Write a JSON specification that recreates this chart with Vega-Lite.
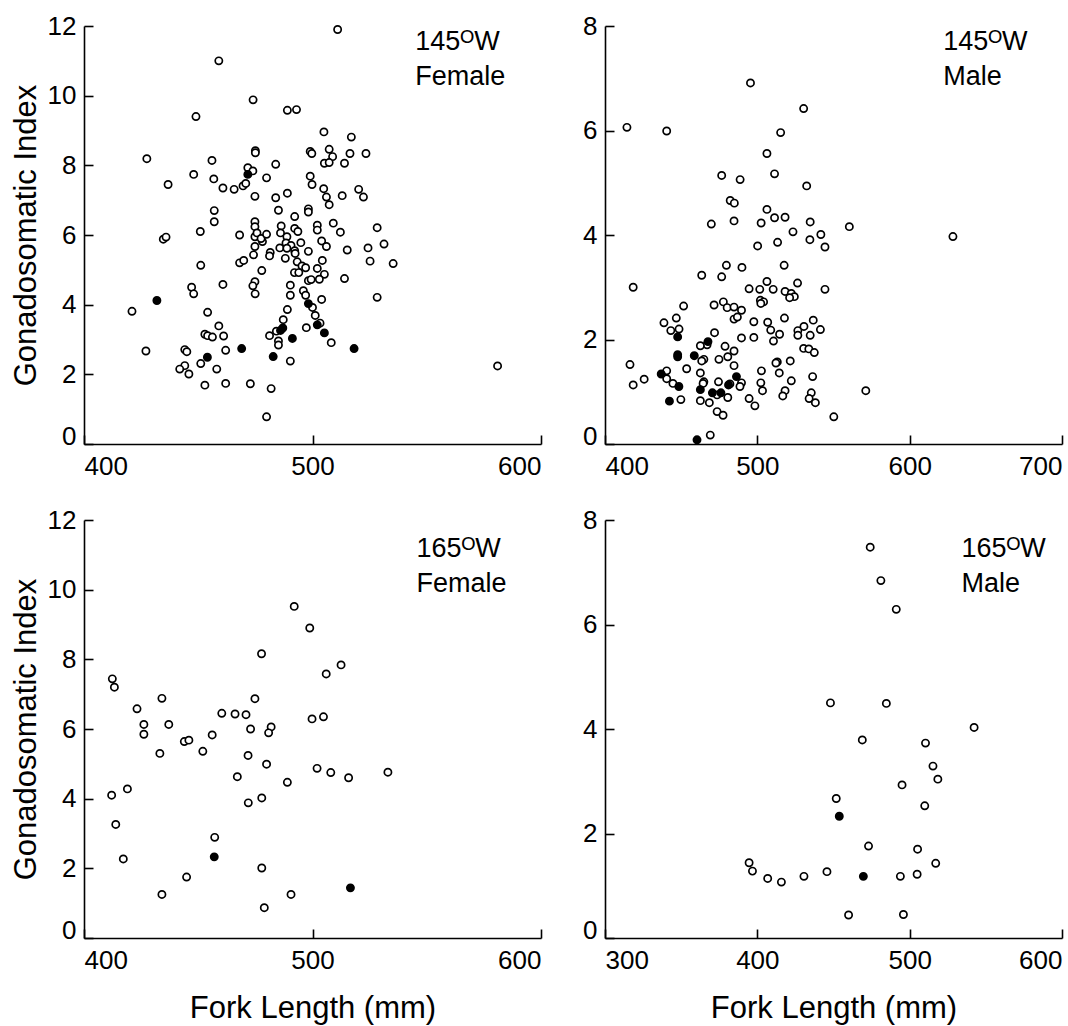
{
"$schema": "https://vega.github.io/schema/vega-lite/v6.json",
"background": "white",
"padding": {"left": 10, "top": 13, "right": 5, "bottom": 5},
"bounds": "flush",
"columns": 2,
"spacing": {"row": 76, "column": 64},
"config": {
  "view": {"stroke": null},
  "point": {"shape": "circle", "filled": true, "size": 52, "stroke": "black", "strokeWidth": 1.7, "opacity": 1},
  "axis": {"domainColor": "black", "domainWidth": 1.6, "tickColor": "black", "tickWidth": 1.6, "tickSize": -9, "grid": false,
    "labelFont": "Liberation Sans", "labelFontSize": 26, "labelColor": "black",
    "titleFont": "Liberation Sans", "titleFontSize": 31, "titleFontWeight": "normal", "titleColor": "black"},
  "axisX": {"labelPadding": 18, "labelFlush": true, "titlePadding": 20},
  "axisY": {"labelPadding": 17, "titlePadding": 5, "labelBaseline": {"condition": {"test": "datum.value === 0", "value": "alphabetic"}, "value": "middle"}}
},
"datasets": {
"tl": [
{"fl":511,"gsi":11.9,"k":"o"},{"fl":459,"gsi":11.0,"k":"o"},{"fl":474,"gsi":9.88,"k":"o"},{"fl":489,"gsi":9.58,"k":"o"},{"fl":493,"gsi":9.6,"k":"o"},{"fl":449,"gsi":9.4,"k":"o"},{"fl":505,"gsi":8.96,"k":"o"},{"fl":517,"gsi":8.81,"k":"o"},{"fl":427.5,"gsi":8.19,"k":"o"},{"fl":499,"gsi":8.4,"k":"o"},{"fl":499.7,"gsi":8.34,"k":"o"},{"fl":507.3,"gsi":8.46,"k":"o"},{"fl":508.8,"gsi":8.25,"k":"o"},{"fl":505.2,"gsi":8.06,"k":"o"},{"fl":507.3,"gsi":8.08,"k":"o"},{"fl":514,"gsi":8.06,"k":"o"},{"fl":516.4,"gsi":8.34,"k":"o"},{"fl":523.4,"gsi":8.34,"k":"o"},{"fl":475,"gsi":8.42,"k":"o"},{"fl":475,"gsi":8.36,"k":"o"},{"fl":456,"gsi":8.14,"k":"o"},{"fl":448,"gsi":7.74,"k":"o"},{"fl":436.8,"gsi":7.45,"k":"o"},{"fl":456.8,"gsi":7.61,"k":"o"},{"fl":460.8,"gsi":7.35,"k":"o"},{"fl":465.7,"gsi":7.31,"k":"o"},{"fl":469.6,"gsi":7.41,"k":"o"},{"fl":470.8,"gsi":7.48,"k":"o"},{"fl":471.7,"gsi":7.93,"k":"o"},{"fl":473.9,"gsi":7.84,"k":"o"},{"fl":474.8,"gsi":7.11,"k":"o"},{"fl":479.9,"gsi":7.64,"k":"o"},{"fl":483.9,"gsi":8.03,"k":"o"},{"fl":483.9,"gsi":7.07,"k":"o"},{"fl":489,"gsi":7.2,"k":"o"},{"fl":499,"gsi":7.69,"k":"o"},{"fl":499.8,"gsi":7.45,"k":"o"},{"fl":504.9,"gsi":7.33,"k":"o"},{"fl":506.1,"gsi":7.09,"k":"o"},{"fl":507.3,"gsi":6.87,"k":"o"},{"fl":513,"gsi":7.13,"k":"o"},{"fl":520.2,"gsi":7.31,"k":"o"},{"fl":522.3,"gsi":7.09,"k":"o"},{"fl":457,"gsi":6.7,"k":"o"},{"fl":457,"gsi":6.38,"k":"o"},{"fl":450.9,"gsi":6.1,"k":"o"},{"fl":485.1,"gsi":6.71,"k":"o"},{"fl":492.2,"gsi":6.53,"k":"o"},{"fl":498.2,"gsi":6.75,"k":"o"},{"fl":498.2,"gsi":6.66,"k":"o"},{"fl":474.8,"gsi":6.38,"k":"o"},{"fl":474.8,"gsi":6.24,"k":"o"},{"fl":474.8,"gsi":5.95,"k":"o"},{"fl":475.7,"gsi":6.06,"k":"o"},{"fl":478.1,"gsi":5.81,"k":"o"},{"fl":477.5,"gsi":5.9,"k":"o"},{"fl":479.9,"gsi":6.02,"k":"o"},{"fl":468.1,"gsi":6.0,"k":"o"},{"fl":486.3,"gsi":6.26,"k":"o"},{"fl":486,"gsi":6.06,"k":"o"},{"fl":488.8,"gsi":5.95,"k":"o"},{"fl":492.2,"gsi":6.19,"k":"o"},{"fl":493.6,"gsi":6.1,"k":"o"},{"fl":502.1,"gsi":6.28,"k":"o"},{"fl":502.1,"gsi":6.14,"k":"o"},{"fl":509.1,"gsi":6.34,"k":"o"},{"fl":512.2,"gsi":6.08,"k":"o"},{"fl":528.3,"gsi":6.21,"k":"o"},{"fl":434.7,"gsi":5.88,"k":"o"},{"fl":435.9,"gsi":5.94,"k":"o"},
{"fl":474.8,"gsi":5.67,"k":"o"},{"fl":488.4,"gsi":5.77,"k":"o"},{"fl":490.6,"gsi":5.7,"k":"o"},{"fl":494.9,"gsi":5.78,"k":"o"},{"fl":504,"gsi":5.83,"k":"o"},{"fl":506.1,"gsi":5.67,"k":"o"},{"fl":515.2,"gsi":5.57,"k":"o"},{"fl":524.3,"gsi":5.63,"k":"o"},{"fl":531.3,"gsi":5.74,"k":"o"},{"fl":485.7,"gsi":5.63,"k":"o"},{"fl":488.8,"gsi":5.62,"k":"o"},{"fl":492.2,"gsi":5.55,"k":"o"},{"fl":498.2,"gsi":5.53,"k":"o"},{"fl":481.5,"gsi":5.5,"k":"o"},
{"fl":474.2,"gsi":5.43,"k":"o"},{"fl":481.2,"gsi":5.4,"k":"o"},{"fl":468.1,"gsi":5.2,"k":"o"},{"fl":469.9,"gsi":5.27,"k":"o"},{"fl":488.1,"gsi":5.33,"k":"o"},{"fl":493.3,"gsi":5.23,"k":"o"},{"fl":492.4,"gsi":5.47,"k":"o"},{"fl":495.4,"gsi":5.11,"k":"o"},{"fl":497,"gsi":5.06,"k":"o"},{"fl":492.1,"gsi":4.92,"k":"o"},{"fl":494,"gsi":4.92,"k":"o"},{"fl":504.3,"gsi":5.27,"k":"o"},{"fl":502.1,"gsi":5.04,"k":"o"},{"fl":505.2,"gsi":4.87,"k":"o"},{"fl":498.2,"gsi":4.69,"k":"o"},{"fl":499.4,"gsi":4.72,"k":"o"},{"fl":503,"gsi":4.73,"k":"o"},{"fl":514,"gsi":4.75,"k":"o"},{"fl":525.2,"gsi":5.25,"k":"o"},{"fl":535.3,"gsi":5.18,"k":"o"},{"fl":477.8,"gsi":4.98,"k":"o"},{"fl":451.1,"gsi":5.13,"k":"o"},{"fl":460.8,"gsi":4.58,"k":"o"},{"fl":474.8,"gsi":4.66,"k":"o"},{"fl":473.9,"gsi":4.54,"k":"o"},{"fl":474.9,"gsi":4.31,"k":"o"},{"fl":447.1,"gsi":4.5,"k":"o"},{"fl":448,"gsi":4.31,"k":"o"},{"fl":490.3,"gsi":4.56,"k":"o"},{"fl":490.3,"gsi":4.27,"k":"o"},{"fl":496,"gsi":4.4,"k":"o"},{"fl":497,"gsi":4.27,"k":"o"},{"fl":528.3,"gsi":4.21,"k":"o"},{"fl":504,"gsi":4.15,"k":"o"},{"fl":421,"gsi":3.81,"k":"o"},{"fl":454.1,"gsi":3.78,"k":"o"},{"fl":500,"gsi":3.92,"k":"o"},{"fl":489,"gsi":3.86,"k":"o"},{"fl":501.2,"gsi":3.69,"k":"o"},{"fl":487.2,"gsi":3.57,"k":"o"},{"fl":503.3,"gsi":3.47,"k":"o"},{"fl":497.3,"gsi":3.34,"k":"o"},{"fl":459,"gsi":3.39,"k":"o"},{"fl":452.9,"gsi":3.15,"k":"o"},{"fl":454.1,"gsi":3.11,"k":"o"},{"fl":456.2,"gsi":3.07,"k":"o"},{"fl":461.1,"gsi":3.1,"k":"o"},{"fl":484.2,"gsi":3.24,"k":"o"},{"fl":481.2,"gsi":3.11,"k":"o"},{"fl":485.1,"gsi":2.96,"k":"o"},{"fl":485.1,"gsi":2.84,"k":"o"},{"fl":508.2,"gsi":2.91,"k":"o"},{"fl":462,"gsi":2.69,"k":"o"},{"fl":444.1,"gsi":2.71,"k":"o"},{"fl":445,"gsi":2.65,"k":"o"},{"fl":427.1,"gsi":2.67,"k":"o"},{"fl":490.3,"gsi":2.38,"k":"o"},{"fl":451.1,"gsi":2.31,"k":"o"},{"fl":444.1,"gsi":2.25,"k":"o"},{"fl":441.9,"gsi":2.15,"k":"o"},{"fl":445.9,"gsi":2.01,"k":"o"},{"fl":458.1,"gsi":2.15,"k":"o"},{"fl":452.9,"gsi":1.69,"k":"o"},{"fl":462,"gsi":1.74,"k":"o"},{"fl":472.8,"gsi":1.73,"k":"o"},{"fl":481.9,"gsi":1.59,"k":"o"},{"fl":479.9,"gsi":0.78,"k":"o"},{"fl":581,"gsi":2.24,"k":"o"},
{"fl":471.7,"gsi":7.74,"k":"f"},{"fl":431.9,"gsi":4.12,"k":"f"},{"fl":498.2,"gsi":4.03,"k":"f"},{"fl":502.1,"gsi":3.42,"k":"f"},{"fl":486,"gsi":3.26,"k":"f"},{"fl":487,"gsi":3.33,"k":"f"},{"fl":491.2,"gsi":3.03,"k":"f"},{"fl":505.2,"gsi":3.19,"k":"f"},{"fl":518.2,"gsi":2.74,"k":"f"},{"fl":469,"gsi":2.74,"k":"f"},{"fl":454,"gsi":2.49,"k":"f"},{"fl":482.8,"gsi":2.51,"k":"f"}
],
"tr": [
{"fl":414.4,"gsi":6.06,"k":"o"},{"fl":440.5,"gsi":5.99,"k":"o"},{"fl":495.5,"gsi":6.91,"k":"o"},{"fl":530.4,"gsi":6.42,"k":"o"},{"fl":515.3,"gsi":5.96,"k":"o"},{"fl":506.3,"gsi":5.56,"k":"o"},{"fl":476.6,"gsi":5.14,"k":"o"},{"fl":488.7,"gsi":5.06,"k":"o"},{"fl":511.3,"gsi":5.17,"k":"o"},{"fl":532.4,"gsi":4.94,"k":"o"},{"fl":482.2,"gsi":4.66,"k":"o"},{"fl":484.9,"gsi":4.61,"k":"o"},{"fl":506.3,"gsi":4.49,"k":"o"},{"fl":511.3,"gsi":4.33,"k":"o"},{"fl":518.2,"gsi":4.34,"k":"o"},{"fl":469.8,"gsi":4.21,"k":"o"},{"fl":484.7,"gsi":4.27,"k":"o"},{"fl":502.5,"gsi":4.23,"k":"o"},{"fl":534.7,"gsi":4.25,"k":"o"},{"fl":560.4,"gsi":4.16,"k":"o"},{"fl":523.4,"gsi":4.06,"k":"o"},{"fl":541.7,"gsi":4.01,"k":"o"},{"fl":628.4,"gsi":3.97,"k":"o"},{"fl":500.2,"gsi":3.79,"k":"o"},{"fl":513.3,"gsi":3.86,"k":"o"},{"fl":534.5,"gsi":3.91,"k":"o"},{"fl":544.4,"gsi":3.77,"k":"o"},
{"fl":479.7,"gsi":3.42,"k":"o"},{"fl":489.9,"gsi":3.38,"k":"o"},{"fl":517.6,"gsi":3.42,"k":"o"},{"fl":463.5,"gsi":3.23,"k":"o"},{"fl":476.6,"gsi":3.2,"k":"o"},{"fl":418.5,"gsi":3.0,"k":"o"},{"fl":506.3,"gsi":3.11,"k":"o"},{"fl":526.4,"gsi":3.08,"k":"o"},{"fl":494.6,"gsi":2.97,"k":"o"},{"fl":501.6,"gsi":2.96,"k":"o"},{"fl":510.4,"gsi":2.96,"k":"o"},{"fl":518.2,"gsi":2.92,"k":"o"},{"fl":522.3,"gsi":2.88,"k":"o"},{"fl":524.3,"gsi":2.82,"k":"o"},{"fl":521.2,"gsi":2.8,"k":"o"},{"fl":544.4,"gsi":2.96,"k":"o"},{"fl":477.7,"gsi":2.72,"k":"o"},{"fl":471.6,"gsi":2.66,"k":"o"},{"fl":480.2,"gsi":2.61,"k":"o"},{"fl":484.7,"gsi":2.62,"k":"o"},{"fl":489.6,"gsi":2.56,"k":"o"},{"fl":502,"gsi":2.75,"k":"o"},{"fl":504.1,"gsi":2.72,"k":"o"},{"fl":502.3,"gsi":2.69,"k":"o"},{"fl":451.6,"gsi":2.64,"k":"o"},{"fl":446.8,"gsi":2.41,"k":"o"},{"fl":484.7,"gsi":2.39,"k":"o"},{"fl":486.9,"gsi":2.43,"k":"o"},{"fl":517.8,"gsi":2.41,"k":"o"},{"fl":438.7,"gsi":2.32,"k":"o"},{"fl":448.6,"gsi":2.2,"k":"o"},{"fl":443.2,"gsi":2.17,"k":"o"},{"fl":471.9,"gsi":2.13,"k":"o"},{"fl":497.7,"gsi":2.34,"k":"o"},{"fl":506.8,"gsi":2.33,"k":"o"},{"fl":508.8,"gsi":2.18,"k":"o"},{"fl":514.6,"gsi":2.1,"k":"o"},{"fl":497.7,"gsi":2.04,"k":"o"},{"fl":489.6,"gsi":2.03,"k":"o"},{"fl":510.6,"gsi":1.97,"k":"o"},{"fl":526.6,"gsi":2.17,"k":"o"},{"fl":526.6,"gsi":2.08,"k":"o"},{"fl":530.6,"gsi":2.25,"k":"o"},{"fl":536.7,"gsi":2.37,"k":"o"},{"fl":541.4,"gsi":2.19,"k":"o"},{"fl":534.7,"gsi":2.08,"k":"o"},
{"fl":467,"gsi":1.9,"k":"o"},{"fl":462.6,"gsi":1.88,"k":"o"},{"fl":478.8,"gsi":1.87,"k":"o"},{"fl":464.9,"gsi":1.62,"k":"o"},{"fl":463.5,"gsi":1.59,"k":"o"},{"fl":474.8,"gsi":1.62,"k":"o"},{"fl":480.6,"gsi":1.67,"k":"o"},{"fl":484.7,"gsi":1.78,"k":"o"},{"fl":484.7,"gsi":1.5,"k":"o"},{"fl":513.1,"gsi":1.57,"k":"o"},{"fl":512.2,"gsi":1.55,"k":"o"},{"fl":521.6,"gsi":1.59,"k":"o"},{"fl":530.4,"gsi":1.83,"k":"o"},{"fl":533.8,"gsi":1.82,"k":"o"},{"fl":537.4,"gsi":1.75,"k":"o"},{"fl":416.4,"gsi":1.52,"k":"o"},{"fl":453.6,"gsi":1.44,"k":"o"},{"fl":440.5,"gsi":1.4,"k":"o"},{"fl":440.5,"gsi":1.25,"k":"o"},{"fl":425.7,"gsi":1.24,"k":"o"},{"fl":444.6,"gsi":1.16,"k":"o"},{"fl":418.5,"gsi":1.13,"k":"o"},{"fl":462.6,"gsi":1.36,"k":"o"},{"fl":502.7,"gsi":1.4,"k":"o"},{"fl":514.4,"gsi":1.36,"k":"o"},{"fl":464.9,"gsi":1.19,"k":"o"},{"fl":464.4,"gsi":1.16,"k":"o"},{"fl":474.5,"gsi":1.19,"k":"o"},{"fl":482,"gsi":1.15,"k":"o"},{"fl":489.6,"gsi":1.17,"k":"o"},{"fl":488.6,"gsi":1.1,"k":"o"},{"fl":502.3,"gsi":1.17,"k":"o"},{"fl":522.3,"gsi":1.21,"k":"o"},{"fl":536.3,"gsi":1.29,"k":"o"},{"fl":473.6,"gsi":0.94,"k":"o"},{"fl":480.6,"gsi":0.89,"k":"o"},{"fl":503.4,"gsi":1.02,"k":"o"},{"fl":518.2,"gsi":1.02,"k":"o"},{"fl":516.7,"gsi":0.92,"k":"o"},{"fl":535.4,"gsi":0.98,"k":"o"},{"fl":534,"gsi":0.87,"k":"o"},{"fl":538.1,"gsi":0.79,"k":"o"},{"fl":494.6,"gsi":0.87,"k":"o"},{"fl":498.4,"gsi":0.73,"k":"o"},{"fl":449.8,"gsi":0.85,"k":"o"},{"fl":462.6,"gsi":0.83,"k":"o"},{"fl":468.5,"gsi":0.79,"k":"o"},{"fl":473.6,"gsi":0.62,"k":"o"},{"fl":477.5,"gsi":0.55,"k":"o"},{"fl":550.2,"gsi":0.52,"k":"o"},{"fl":571.2,"gsi":1.02,"k":"o"},{"fl":469.1,"gsi":0.17,"k":"o"},
{"fl":447.7,"gsi":2.05,"k":"f"},{"fl":467.6,"gsi":1.96,"k":"f"},{"fl":447.7,"gsi":1.71,"k":"f"},{"fl":447.7,"gsi":1.67,"k":"f"},{"fl":458.6,"gsi":1.69,"k":"f"},{"fl":436.9,"gsi":1.34,"k":"f"},{"fl":448.5,"gsi":1.1,"k":"f"},{"fl":486.3,"gsi":1.29,"k":"f"},{"fl":481.1,"gsi":1.13,"k":"f"},{"fl":462.6,"gsi":1.04,"k":"f"},{"fl":470.5,"gsi":0.98,"k":"f"},{"fl":476.1,"gsi":0.98,"k":"f"},{"fl":442.3,"gsi":0.82,"k":"f"},{"fl":460.4,"gsi":0.08,"k":"f"}
],
"bl": [
{"fl":492,"gsi":9.52,"k":"o"},{"fl":498.8,"gsi":8.9,"k":"o"},{"fl":477.7,"gsi":8.16,"k":"o"},{"fl":512.5,"gsi":7.84,"k":"o"},{"fl":506,"gsi":7.58,"k":"o"},{"fl":412.4,"gsi":7.44,"k":"o"},{"fl":413.3,"gsi":7.2,"k":"o"},{"fl":423.2,"gsi":6.58,"k":"o"},{"fl":434.1,"gsi":6.88,"k":"o"},{"fl":474.8,"gsi":6.87,"k":"o"},{"fl":426.2,"gsi":6.13,"k":"o"},{"fl":426.2,"gsi":5.85,"k":"o"},{"fl":437.1,"gsi":6.13,"k":"o"},{"fl":460.3,"gsi":6.45,"k":"o"},{"fl":466.1,"gsi":6.43,"k":"o"},{"fl":470.9,"gsi":6.41,"k":"o"},{"fl":472.9,"gsi":6.0,"k":"o"},{"fl":481.9,"gsi":6.06,"k":"o"},{"fl":480.8,"gsi":5.89,"k":"o"},{"fl":499.8,"gsi":6.29,"k":"o"},{"fl":504.8,"gsi":6.35,"k":"o"},{"fl":443.9,"gsi":5.64,"k":"o"},{"fl":445.9,"gsi":5.68,"k":"o"},{"fl":456.1,"gsi":5.83,"k":"o"},{"fl":433.2,"gsi":5.3,"k":"o"},{"fl":452,"gsi":5.36,"k":"o"},{"fl":471.8,"gsi":5.24,"k":"o"},{"fl":479.9,"gsi":4.99,"k":"o"},{"fl":502,"gsi":4.87,"k":"o"},{"fl":508,"gsi":4.75,"k":"o"},{"fl":533,"gsi":4.76,"k":"o"},{"fl":467.1,"gsi":4.63,"k":"o"},{"fl":515.8,"gsi":4.6,"k":"o"},{"fl":489,"gsi":4.47,"k":"o"},{"fl":412.1,"gsi":4.1,"k":"o"},{"fl":419,"gsi":4.28,"k":"o"},{"fl":471.9,"gsi":3.88,"k":"o"},{"fl":477.8,"gsi":4.02,"k":"o"},{"fl":413.9,"gsi":3.26,"k":"o"},{"fl":457.2,"gsi":2.89,"k":"o"},{"fl":417.2,"gsi":2.27,"k":"o"},{"fl":477.8,"gsi":2.01,"k":"o"},{"fl":444.9,"gsi":1.75,"k":"o"},{"fl":434.1,"gsi":1.25,"k":"o"},{"fl":490.6,"gsi":1.25,"k":"o"},{"fl":478.9,"gsi":0.87,"k":"o"},
{"fl":457,"gsi":2.33,"k":"f"},{"fl":516.6,"gsi":1.44,"k":"f"}
],
"br": [
{"fl":474.1,"gsi":7.48,"k":"o"},{"fl":481.1,"gsi":6.84,"k":"o"},{"fl":491.2,"gsi":6.29,"k":"o"},{"fl":448,"gsi":4.5,"k":"o"},{"fl":484.7,"gsi":4.49,"k":"o"},{"fl":542.3,"gsi":4.03,"k":"o"},{"fl":468.9,"gsi":3.79,"k":"o"},{"fl":510.4,"gsi":3.73,"k":"o"},{"fl":515.3,"gsi":3.29,"k":"o"},{"fl":518.5,"gsi":3.04,"k":"o"},{"fl":495,"gsi":2.93,"k":"o"},{"fl":451.8,"gsi":2.67,"k":"o"},{"fl":509.9,"gsi":2.53,"k":"o"},{"fl":473,"gsi":1.76,"k":"o"},{"fl":505.2,"gsi":1.7,"k":"o"},{"fl":517.1,"gsi":1.43,"k":"o"},{"fl":394.6,"gsi":1.44,"k":"o"},{"fl":396.8,"gsi":1.28,"k":"o"},{"fl":406.8,"gsi":1.14,"k":"o"},{"fl":415.8,"gsi":1.07,"k":"o"},{"fl":430.6,"gsi":1.18,"k":"o"},{"fl":445.7,"gsi":1.27,"k":"o"},{"fl":493.9,"gsi":1.18,"k":"o"},{"fl":504.9,"gsi":1.22,"k":"o"},{"fl":459.9,"gsi":0.44,"k":"o"},{"fl":495.9,"gsi":0.45,"k":"o"},
{"fl":453.8,"gsi":2.33,"k":"f"},{"fl":469.6,"gsi":1.18,"k":"f"}
]
},
"concat": [
{
 "width": 457, "height": 418,
 "data": {"name": "tl"},
 "layer": [
  {"mark": {"type": "point"},
   "encoding": {
    "x": {"field": "fl", "type": "quantitative", "scale": {"domain": [400, 600], "nice": false, "zero": false}, "axis": {"values": [400, 500, 600], "title": null}},
    "y": {"field": "gsi", "type": "quantitative", "scale": {"domain": [0, 12], "nice": false}, "axis": {"values": [0, 2, 4, 6, 8, 10, 12], "title": "Gonadosomatic Index"}},
    "fill": {"field": "k", "type": "nominal", "scale": {"domain": ["o", "f"], "range": ["white", "black"]}, "legend": null}
   }},
  {"data": {"values": [{"label": "145ᴼW\nFemale"}]},
   "mark": {"type": "text", "align": "left", "baseline": "alphabetic", "font": "Liberation Sans", "fontSize": 27, "lineBreak": "\n", "lineHeight": 35, "color": "black"},
   "encoding": {"x": {"datum": 545}, "y": {"datum": 11.31}, "text": {"field": "label"}}}
 ]
},
{
 "width": 457, "height": 418,
 "data": {"name": "tr"},
 "layer": [
  {"mark": {"type": "point"},
   "encoding": {
    "x": {"field": "fl", "type": "quantitative", "scale": {"domain": [400, 700], "nice": false, "zero": false}, "axis": {"values": [400, 500, 600, 700], "title": null}},
    "y": {"field": "gsi", "type": "quantitative", "scale": {"domain": [0, 8], "nice": false}, "axis": {"values": [0, 2, 4, 6, 8], "title": null}},
    "fill": {"field": "k", "type": "nominal", "scale": {"domain": ["o", "f"], "range": ["white", "black"]}, "legend": null}
   }},
  {"data": {"values": [{"label": "145ᴼW\nMale"}]},
   "mark": {"type": "text", "align": "left", "baseline": "alphabetic", "font": "Liberation Sans", "fontSize": 27, "lineBreak": "\n", "lineHeight": 35, "color": "black"},
   "encoding": {"x": {"datum": 622}, "y": {"datum": 7.54}, "text": {"field": "label"}}}
 ]
},
{
 "width": 457, "height": 418,
 "data": {"name": "bl"},
 "layer": [
  {"mark": {"type": "point"},
   "encoding": {
    "x": {"field": "fl", "type": "quantitative", "scale": {"domain": [400, 600], "nice": false, "zero": false}, "axis": {"values": [400, 500, 600], "title": "Fork Length (mm)"}},
    "y": {"field": "gsi", "type": "quantitative", "scale": {"domain": [0, 12], "nice": false}, "axis": {"values": [0, 2, 4, 6, 8, 10, 12], "title": "Gonadosomatic Index"}},
    "fill": {"field": "k", "type": "nominal", "scale": {"domain": ["o", "f"], "range": ["white", "black"]}, "legend": null}
   }},
  {"data": {"values": [{"label": "165ᴼW\nFemale"}]},
   "mark": {"type": "text", "align": "left", "baseline": "alphabetic", "font": "Liberation Sans", "fontSize": 27, "lineBreak": "\n", "lineHeight": 35, "color": "black"},
   "encoding": {"x": {"datum": 545.5}, "y": {"datum": 10.94}, "text": {"field": "label"}}}
 ]
},
{
 "width": 457, "height": 418,
 "data": {"name": "br"},
 "layer": [
  {"mark": {"type": "point"},
   "encoding": {
    "x": {"field": "fl", "type": "quantitative", "scale": {"domain": [300, 600], "nice": false, "zero": false}, "axis": {"values": [300, 400, 500, 600], "title": "Fork Length (mm)"}},
    "y": {"field": "gsi", "type": "quantitative", "scale": {"domain": [0, 8], "nice": false}, "axis": {"values": [0, 2, 4, 6, 8], "title": null}},
    "fill": {"field": "k", "type": "nominal", "scale": {"domain": ["o", "f"], "range": ["white", "black"]}, "legend": null}
   }},
  {"data": {"values": [{"label": "165ᴼW\nMale"}]},
   "mark": {"type": "text", "align": "left", "baseline": "alphabetic", "font": "Liberation Sans", "fontSize": 27, "lineBreak": "\n", "lineHeight": 35, "color": "black"},
   "encoding": {"x": {"datum": 534}, "y": {"datum": 7.29}, "text": {"field": "label"}}}
 ]
}
]
}
